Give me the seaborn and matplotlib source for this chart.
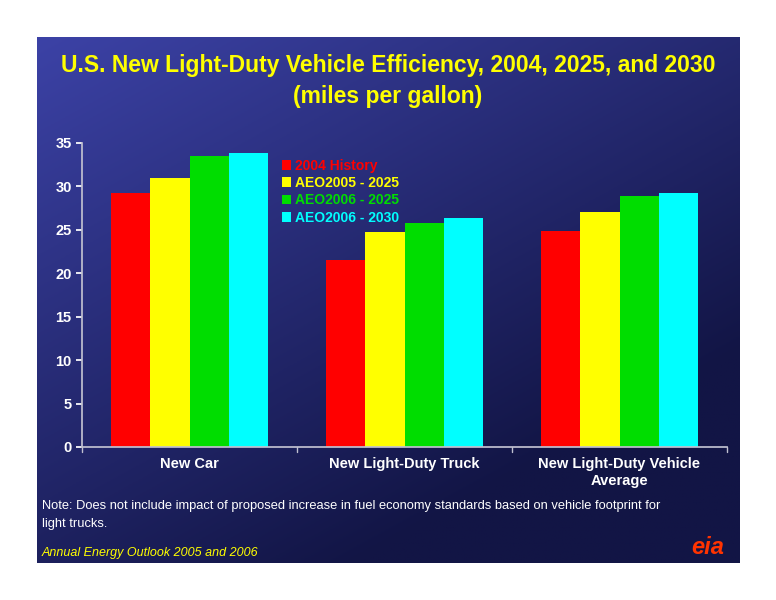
import numpy as np
import pandas as pd
import matplotlib
matplotlib.use("Agg")
import matplotlib.pyplot as plt
import seaborn as sns

categories = ["New Car", "New Light-Duty Truck", "New Light-Duty Vehicle\nAverage"]
series = ["2004 History", "AEO2005 - 2025", "AEO2006 - 2025", "AEO2006 - 2030"]
values = {
    "2004 History": [29.3, 21.5, 24.9],
    "AEO2005 - 2025": [31.0, 24.7, 27.0],
    "AEO2006 - 2025": [33.5, 25.8, 28.9],
    "AEO2006 - 2030": [33.8, 26.4, 29.2],
}
colors = ["#ff0000", "#ffff00", "#00dd00", "#00ffff"]

df = pd.DataFrame([{"cat": c, "series": s, "mpg": values[s][i]}
                   for s in series for i, c in enumerate(categories)])

sns.set_theme(style="white")
plt.rcParams['font.family'] = ['Liberation Sans', 'DejaVu Sans']

W, H = 776, 600
fig = plt.figure(figsize=(W / 100, H / 100), dpi=100)
fig.patch.set_facecolor("white")

# slide background with gradient
bg = fig.add_axes([37 / W, 1 - 563 / H, (740 - 37) / W, (563 - 37) / H])
yy, xx = np.mgrid[0:1:200j, 0:1:200j]
t = np.clip(0.55 * xx + 0.75 * yy, 0, 1)
c1 = np.array([0x3c, 0x42, 0xa6]) / 255
c2 = np.array([0x12, 0x15, 0x45]) / 255
img = c1[None, None, :] * (1 - t[..., None]) + c2[None, None, :] * t[..., None]
bg.imshow(img, aspect="auto", extent=[0, 1, 0, 1], origin="upper")
bg.set_xlim(0, 1); bg.set_ylim(0, 1)
bg.axis("off")

ax = fig.add_axes([82 / W, 1 - 447 / H, (727 - 82) / W, (447 - 143) / H])
ax.set_facecolor("none")
sns.barplot(data=df, x="cat", y="mpg", hue="series", palette=colors,
            width=0.73, saturation=1, ax=ax, edgecolor="none")
ax.set_ylim(0, 35)
ax.set_yticks(range(0, 36, 5))
ax.set_xlabel(""); ax.set_ylabel("")
for s in ["top", "right"]:
    ax.spines[s].set_visible(False)
for s in ["left", "bottom"]:
    ax.spines[s].set_color("#c0c0d0")
ax.tick_params(colors="white", labelsize=10.5, length=4, direction="out", left=True, bottom=False)
for lab in ax.get_yticklabels() + ax.get_xticklabels():
    lab.set_fontweight("bold")
    lab.set_color("white")
ax.set_xlim(-0.5, 2.5)
for x in [-0.5, 0.5, 1.5, 2.5]:
    ax.plot([x, x], [0, -0.6], color="#c0c0d0", lw=1, clip_on=False)

leg = ax.legend(loc="upper left", bbox_to_anchor=(0.29, 0.99), frameon=False,
                handlelength=0.7, handleheight=0.7, handletextpad=0.3,
                labelspacing=0.25, fontsize=10)
for txt, col in zip(leg.get_texts(), colors):
    txt.set_color(col)
    txt.set_fontweight("bold")

fig.text(0.5, 1 - 81 / H, "U.S. New Light-Duty Vehicle Efficiency, 2004, 2025, and 2030\n(miles per gallon)",
         ha="center", va="center", color="#ffff00", fontsize=16.5, fontweight="bold", linespacing=1.45)
fig.text(42 / W, 1 - 515 / H,
         "Note: Does not include impact of proposed increase in fuel economy standards based on vehicle footprint for\nlight trucks.",
         ha="left", va="center", color="white", fontsize=9.3, linespacing=1.6)
fig.text(42 / W, 1 - 553 / H, "Annual Energy Outlook 2005 and 2006",
         ha="left", va="center", color="#ffff00", fontsize=9, style="italic")
fig.text(708 / W, 1 - 547 / H, "eia", ha="center", va="center", color="#ff3300",
         fontsize=17, fontweight="bold", style="italic")

fig.savefig("out.png", dpi=100, facecolor="white")
